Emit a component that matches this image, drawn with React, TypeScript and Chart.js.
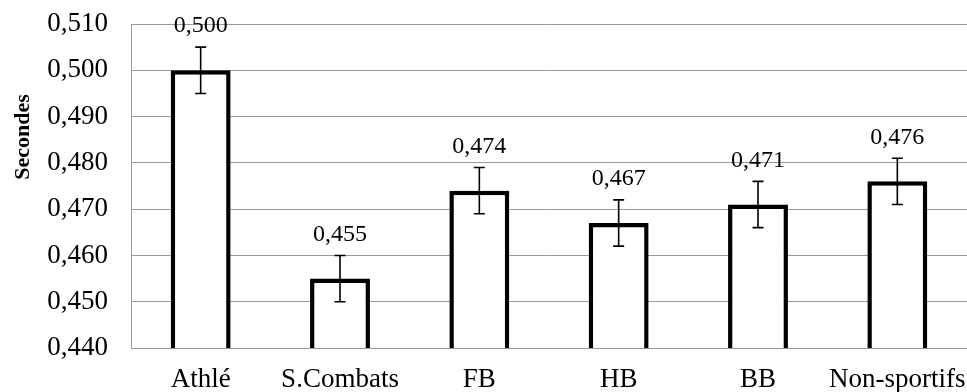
import React, { useEffect, useRef } from "react";
import { Chart, registerables } from "chart.js";

Chart.register(...registerables);

const categories = ["Athlé", "S.Combats", "FB", "HB", "BB", "Non-sportifs"];
const values = [0.5, 0.455, 0.474, 0.467, 0.471, 0.476];
const errors = [0.005, 0.005, 0.005, 0.005, 0.005, 0.005];
const yMin = 0.44;
const yMax = 0.51;
const yStep = 0.01;
const yTitle = "Secondes";

const fmt = (v: number) => v.toFixed(3).replace(".", ",");

const FONT = "'Liberation Serif', 'Times New Roman', serif";

const errorBarPlugin = {
  id: "errorBars",
  afterDatasetsDraw(chart: any) {
    const ctx = chart.ctx;
    const meta = chart.getDatasetMeta(0);
    const yScale = chart.scales.y;
    ctx.save();
    meta.data.forEach((bar: any, i: number) => {
      const v = values[i];
      const e = errors[i];
      const x = bar.x;
      const yTop = yScale.getPixelForValue(v + e);
      const yBot = yScale.getPixelForValue(v - e);
      ctx.strokeStyle = "#000";
      ctx.lineWidth = 1.6;
      ctx.beginPath();
      ctx.moveTo(x, yTop);
      ctx.lineTo(x, yBot);
      ctx.moveTo(x - 5.5, yTop);
      ctx.lineTo(x + 5.5, yTop);
      ctx.moveTo(x - 5.5, yBot);
      ctx.lineTo(x + 5.5, yBot);
      ctx.stroke();
      ctx.fillStyle = "#000";
      ctx.font = `24px ${FONT}`;
      ctx.textAlign = "center";
      ctx.textBaseline = "middle";
      ctx.fillText(fmt(v), x, yTop - 21);
    });
    ctx.restore();
  },
  afterDraw(chart: any) {
    const ctx = chart.ctx;
    ctx.save();
    ctx.translate(23, 137);
    ctx.rotate(-Math.PI / 2);
    ctx.fillStyle = "#000";
    ctx.font = `bold 22px ${FONT}`;
    ctx.textAlign = "center";
    ctx.textBaseline = "middle";
    ctx.fillText(yTitle, 0, 0);
    ctx.restore();
  },
};

export default function App() {
  const ref = useRef<HTMLCanvasElement>(null);
  useEffect(() => {
    if (!ref.current) return;
    const chart = new Chart(ref.current, {
      type: "bar",
      data: {
        labels: categories,
        datasets: [
          {
            data: values,
            backgroundColor: "#ffffff",
            borderColor: "#000000",
            borderWidth: 4.5,
            borderSkipped: false,
            categoryPercentage: 1,
            barPercentage: 0.43,
          },
        ],
      },
      options: {
        animation: false,
        responsive: false,
        layout: { padding: { top: 24, right: 0, left: 0, bottom: 0 } },
        plugins: {
          legend: { display: false },
          tooltip: { enabled: false },
        },
        scales: {
          x: {
            grid: { display: false },
            border: { display: true, color: "#999999", width: 1 },
            ticks: {
              color: "#000",
              font: { family: FONT, size: 27 },
              padding: 8,
              maxRotation: 0,
              autoSkip: false,
            },
            afterFit(scale: any) {
              scale.height = 44;
              scale.paddingLeft = 0;
              scale.paddingRight = 0;
            },
          },
          y: {
            min: yMin,
            max: yMax,
            grid: { color: "#999999", lineWidth: 1, drawTicks: false },
            border: { display: true, color: "#999999", width: 1 },
            ticks: {
              stepSize: yStep,
              color: "#000",
              font: { family: FONT, size: 27 },
              padding: 23,
              callback: (v: any) => fmt(Number(v)),
            },
            afterFit(scale: any) {
              scale.width = 131;
              scale.paddingTop = 0;
              scale.paddingBottom = 0;
            },
          },
        },
      },
      plugins: [errorBarPlugin],
    });
    return () => chart.destroy();
  }, []);
  return (
    <div style={{ position: "absolute", left: 0, top: 0, width: 967, height: 392, background: "#fff" }}>
      <canvas ref={ref} width={967} height={392} />
    </div>
  );
}
